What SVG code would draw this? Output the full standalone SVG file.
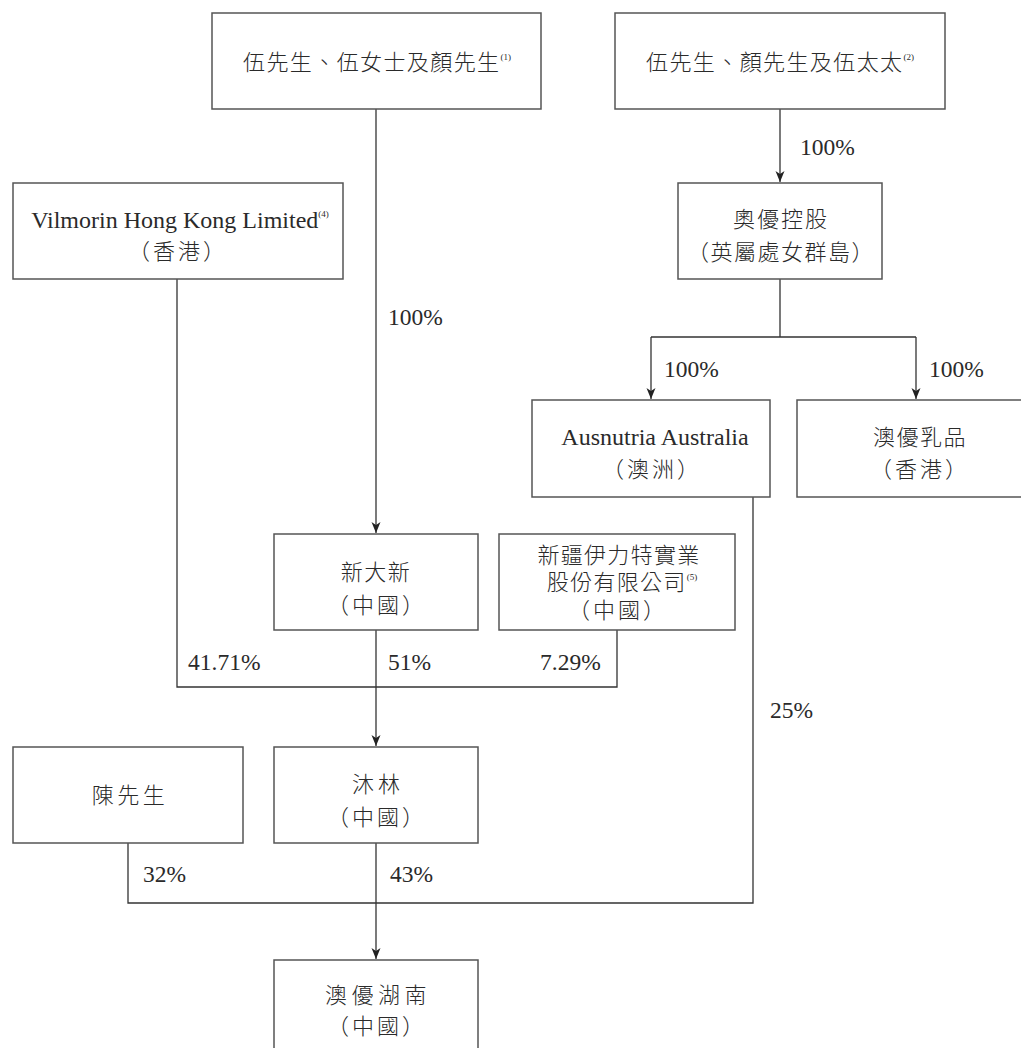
<svg xmlns="http://www.w3.org/2000/svg" width="1021" height="1048" viewBox="0 0 1021 1048">
<style>
.box{fill:#fff;stroke:#555;stroke-width:1.5}
.ln{fill:none;stroke:#333;stroke-width:1.3}
.t{font-family:"Liberation Serif","Noto Sans CJK TC",serif;font-size:22px;font-weight:300;fill:#2a2a2a;text-anchor:middle}
.e{font-size:24px}
.p{font-family:"Liberation Serif",serif;font-size:23.5px;fill:#2a2a2a}
.s{font-size:9px}
</style>
<defs>
<marker id="ah" markerUnits="userSpaceOnUse" markerWidth="12" markerHeight="10" refX="11" refY="4.5" orient="auto">
<path d="M0,0 L11,4.5 L0,9 L3,4.5 z" fill="#222"/>
</marker>
</defs>
<rect width="1021" height="1048" fill="#fff"/>
<g id="connectors">
<path class="ln" d="M376,109 V533" marker-end="url(#ah)"/>
<path class="ln" d="M780,109 V182" marker-end="url(#ah)"/>
<path class="ln" d="M780,279 V337 M651,337 H916"/>
<path class="ln" d="M651,337 V399" marker-end="url(#ah)"/>
<path class="ln" d="M916,337 V399" marker-end="url(#ah)"/>
<path class="ln" d="M177,279 V687 H617 V630"/>
<path class="ln" d="M376,630 V746" marker-end="url(#ah)"/>
<path class="ln" d="M753,497 V903 H128 V843"/>
<path class="ln" d="M376,843 V959" marker-end="url(#ah)"/>
</g>
<g id="labels">
<text class="p" x="800" y="155">100%</text>
<text class="p" x="388" y="325">100%</text>
<text class="p" x="664" y="377">100%</text>
<text class="p" x="929" y="377">100%</text>
<text class="p" x="188" y="670">41.71%</text>
<text class="p" x="388" y="670">51%</text>
<text class="p" x="540" y="670">7.29%</text>
<text class="p" x="770" y="718">25%</text>
<text class="p" x="143" y="882">32%</text>
<text class="p" x="390" y="882">43%</text>
</g>
<g id="n1">
<rect class="box" x="212" y="13" width="329" height="96"/>
<text class="t" x="377" y="70" letter-spacing="1.4">伍先生、伍女士及顏先生<tspan class="s" dy="-10" letter-spacing="0">(1)</tspan></text>
</g>
<g id="n2">
<rect class="box" x="615" y="13" width="330" height="96"/>
<text class="t" x="780" y="70" letter-spacing="1.4">伍先生、顏先生及伍太太<tspan class="s" dy="-10" letter-spacing="0">(2)</tspan></text>
</g>
<g id="n3">
<rect class="box" x="13" y="183" width="330" height="96"/>
<text class="t e" x="180" y="228">Vilmorin Hong Kong Limited<tspan class="s" dy="-11">(4)</tspan></text>
<text class="t" x="178" y="259" letter-spacing="3">（香港）</text>
</g>
<g id="n4">
<rect class="box" x="678" y="183" width="204" height="96"/>
<text class="t" x="781" y="227" letter-spacing="2">奧優控股</text>
<text class="t" x="781" y="260" letter-spacing="1.5">（英屬處女群島）</text>
</g>
<g id="n5">
<rect class="box" x="532" y="400" width="238" height="97"/>
<text class="t e" x="655" y="445">Ausnutria Australia</text>
<text class="t" x="652" y="477" letter-spacing="3">（澳洲）</text>
</g>
<g id="n6">
<rect class="box" x="797" y="400" width="240" height="97"/>
<text class="t" x="920" y="445" letter-spacing="1.5">澳優乳品</text>
<text class="t" x="920" y="477" letter-spacing="3">（香港）</text>
</g>
<g id="n7">
<rect class="box" x="274" y="534" width="204" height="96"/>
<text class="t" x="376" y="580" letter-spacing="1.5">新大新</text>
<text class="t" x="377" y="613" letter-spacing="3">（中國）</text>
</g>
<g id="n8">
<rect class="box" x="499" y="534" width="236" height="96"/>
<text class="t" x="619" y="563" letter-spacing="1.3">新疆伊力特實業</text>
<text class="t" x="622" y="590" letter-spacing="1.3">股份有限公司<tspan class="s" dy="-10" letter-spacing="0">(5)</tspan></text>
<text class="t" x="618" y="618" letter-spacing="3">（中國）</text>
</g>
<g id="n9">
<rect class="box" x="13" y="747" width="230" height="96"/>
<text class="t" x="130" y="803" letter-spacing="3.5">陳先生</text>
</g>
<g id="n10">
<rect class="box" x="274" y="747" width="204" height="96"/>
<text class="t" x="378" y="792" letter-spacing="4">沐林</text>
<text class="t" x="377" y="825" letter-spacing="3">（中國）</text>
</g>
<g id="n11">
<rect class="box" x="274" y="960" width="204" height="100"/>
<text class="t" x="378" y="1003" letter-spacing="4.5">澳優湖南</text>
<text class="t" x="377" y="1034" letter-spacing="3">（中國）</text>
</g>
</svg>
